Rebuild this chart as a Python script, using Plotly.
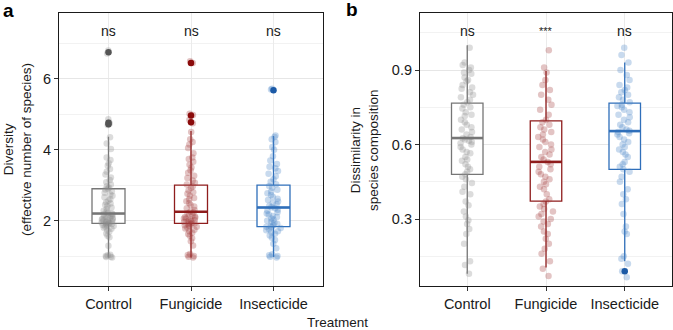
import plotly.graph_objects as go

categories = ["Control", "Fungicide", "Insecticide"]
colors = ["#767676", "#8f1d1d", "#2f6fba"]
point_colors = ["#8a8a8a", "#a33a3a", "#4a86c8"]
dark_colors = ["#555555", "#8b0b0b", "#1c5aa6"]

# ---- panel a: diversity ----
div_q1 = [1.92, 1.92, 1.83]
div_median = [2.2, 2.25, 2.37]
div_q3 = [2.9, 3.0, 3.0]
div_lower = [0.96, 0.96, 0.97]
div_upper = [4.37, 4.53, 4.39]
div_outliers = [[4.72, 4.76, 6.75], [4.78, 4.97, 6.45], [5.68]]

div_control = [0.96, 0.98, 1.0, 1.02, 0.97, 1.04, 1.29, 1.53, 1.57, 1.64, 1.69, 1.73, 1.77, 1.8,
               1.83, 1.85, 1.86, 1.88, 1.9, 1.9, 1.91, 1.93, 1.94, 1.95, 1.95, 1.97, 1.98, 2.0,
               2.01, 2.03, 2.04, 2.05, 2.07, 2.08, 2.1, 2.11, 2.13, 2.15, 2.17, 2.18, 2.2, 2.22,
               2.25, 2.28, 2.33, 2.37, 2.41, 2.45, 2.48, 2.52, 2.57, 2.6, 2.66, 2.7, 2.74, 2.79,
               2.83, 2.88, 2.9, 2.93, 2.97, 3.02, 3.08, 3.15, 3.22, 3.3, 3.38, 3.46, 3.55, 3.62,
               3.71, 3.78, 4.02, 4.18, 4.35, 4.7, 4.74, 4.78, 4.86, 6.72, 6.8]
div_fung = [0.96, 0.98, 1.0, 1.03, 1.06, 1.3, 1.42, 1.5, 1.57, 1.62, 1.66, 1.7, 1.74, 1.78, 1.8,
            1.83, 1.85, 1.87, 1.89, 1.9, 1.92, 1.93, 1.95, 1.96, 1.98, 2.0, 2.01, 2.03, 2.05,
            2.06, 2.08, 2.1, 2.12, 2.14, 2.17, 2.2, 2.23, 2.26, 2.3, 2.35, 2.4, 2.44, 2.5, 2.55,
            2.6, 2.64, 2.7, 2.76, 2.8, 2.86, 2.92, 2.97, 3.02, 3.07, 3.13, 3.2, 3.27, 3.35, 3.42,
            3.5, 3.58, 3.66, 3.74, 3.78, 3.9, 4.05, 4.15, 4.22, 4.3, 4.5, 4.75, 4.85, 4.98, 5.02,
            6.45, 6.5]
div_insect = [0.96, 0.98, 1.0, 1.02, 1.05, 1.22, 1.35, 1.45, 1.52, 1.58, 1.63, 1.67, 1.7, 1.73,
              1.76, 1.79, 1.81, 1.83, 1.85, 1.88, 1.91, 1.94, 1.97, 2.0, 2.03, 2.06, 2.1, 2.13,
              2.17, 2.2, 2.24, 2.28, 2.31, 2.35, 2.38, 2.42, 2.46, 2.5, 2.54, 2.58, 2.62, 2.67,
              2.72, 2.77, 2.82, 2.87, 2.93, 2.98, 3.03, 3.1, 3.17, 3.25, 3.32, 3.4, 3.48, 3.52,
              3.6, 3.7, 3.82, 4.0, 4.08, 4.22, 4.3, 4.36, 4.4, 5.7, 5.72]
div_points = [div_control, div_fung, div_insect]
div_signif = ["ns", "ns", "ns"]

# ---- panel b: dissimilarity ----
dis_q1 = [0.48, 0.372, 0.50]
dis_median = [0.626, 0.53, 0.654]
dis_q3 = [0.767, 0.695, 0.767]
dis_lower = [0.08, 0.105, 0.13]
dis_upper = [1.0, 0.896, 0.93]
dis_outliers = [[], [], [0.09]]

dis_control = [0.08, 0.115, 0.13, 0.2, 0.24, 0.26, 0.28, 0.295, 0.31, 0.33, 0.355, 0.37, 0.4,
               0.41, 0.43, 0.445, 0.46, 0.47, 0.48, 0.49, 0.5, 0.51, 0.52, 0.535, 0.54, 0.55,
               0.565, 0.57, 0.58, 0.59, 0.6, 0.605, 0.61, 0.615, 0.62, 0.625, 0.63, 0.64, 0.65,
               0.66, 0.67, 0.68, 0.69, 0.7, 0.715, 0.72, 0.73, 0.745, 0.75, 0.76, 0.77, 0.78,
               0.79, 0.8, 0.81, 0.825, 0.83, 0.84, 0.855, 0.86, 0.87, 0.885, 0.89, 0.9, 0.91,
               0.92, 0.93, 0.99]
dis_fung = [0.07, 0.1, 0.13, 0.16, 0.18, 0.2, 0.22, 0.24, 0.25, 0.27, 0.28, 0.29, 0.3, 0.31,
            0.32, 0.33, 0.34, 0.35, 0.36, 0.37, 0.38, 0.4, 0.42, 0.43, 0.44, 0.45, 0.46, 0.47,
            0.48, 0.49, 0.5, 0.51, 0.52, 0.53, 0.54, 0.55, 0.56, 0.57, 0.58, 0.59, 0.6, 0.61,
            0.62, 0.63, 0.64, 0.65, 0.66, 0.67, 0.68, 0.69, 0.7, 0.72, 0.74, 0.76, 0.78, 0.8,
            0.82, 0.84, 0.86, 0.89, 0.91, 0.98]
dis_insect = [0.065, 0.09, 0.12, 0.14, 0.15, 0.24, 0.25, 0.27, 0.32, 0.36, 0.38, 0.4, 0.42,
              0.45, 0.47, 0.49, 0.5, 0.51, 0.52, 0.53, 0.55, 0.56, 0.57, 0.58, 0.59, 0.6, 0.61,
              0.62, 0.63, 0.64, 0.645, 0.65, 0.655, 0.66, 0.67, 0.68, 0.69, 0.7, 0.71, 0.72,
              0.73, 0.74, 0.75, 0.755, 0.76, 0.77, 0.78, 0.79, 0.8, 0.81, 0.82, 0.83, 0.84,
              0.86, 0.88, 0.9, 0.93, 0.96, 0.99]
dis_points = [dis_control, dis_fung, dis_insect]
dis_signif = ["ns", "***", "ns"]

BOX_W = 0.4
FONT = "Liberation Sans, Arial, Helvetica, sans-serif"
W, H = 673, 330

fig = go.Figure()


def add_panel(xa, ya, q1, med, q3, lo, up, pts, outl):
    for i in range(3):
        fig.add_trace(go.Box(
            x=[i], q1=[q1[i]], median=[med[i]], q3=[q3[i]],
            lowerfence=[lo[i]], upperfence=[up[i]], width=BOX_W,
            line=dict(color=colors[i], width=1.3), fillcolor="white",
            boxpoints=False, whiskerwidth=0, showlegend=False,
            xaxis=xa, yaxis=ya, hoverinfo="skip"))
        if outl[i]:
            fig.add_trace(go.Scatter(
                x=[i] * len(outl[i]), y=outl[i], mode="markers",
                marker=dict(color=dark_colors[i], size=6.5, line=dict(width=0)),
                showlegend=False, xaxis=xa, yaxis=ya, hoverinfo="skip"))
        fig.add_trace(go.Box(
            x0=i, y=pts[i], boxpoints="all", jitter=0.5, pointpos=0, width=BOX_W,
            line=dict(width=0, color="rgba(0,0,0,0)"), fillcolor="rgba(0,0,0,0)",
            marker=dict(color=point_colors[i], opacity=0.3, size=6.5, line=dict(width=0)),
            showlegend=False, xaxis=xa, yaxis=ya, hoveron="points"))
        fig.add_trace(go.Scatter(
            x=[i - BOX_W / 2, i + BOX_W / 2], y=[med[i], med[i]], mode="lines",
            line=dict(color=colors[i], width=2.6), showlegend=False,
            xaxis=xa, yaxis=ya, hoverinfo="skip"))


add_panel("x", "y", div_q1, div_median, div_q3, div_lower, div_upper, div_points, div_outliers)
add_panel("x2", "y2", dis_q1, dis_median, dis_q3, dis_lower, dis_upper, dis_points, dis_outliers)

ydom = [(H - 286) / H, (H - 13) / H]
common_x = dict(range=[-0.6, 2.6], tickvals=[0, 1, 2], ticktext=categories,
                showgrid=True, gridcolor="#ebebeb", gridwidth=1, zeroline=False,
                showline=True, mirror=True, linecolor="#1a1a1a", linewidth=1.2,
                ticks="outside", ticklen=4, tickcolor="#333333", tickwidth=1,
                tickfont=dict(family=FONT, size=14.5, color="#1a1a1a"))
common_y = dict(showgrid=True, gridcolor="#e6e6e6", gridwidth=1, zeroline=False,
                showline=True, mirror=True, linecolor="#1a1a1a", linewidth=1.2,
                ticks="outside", ticklen=4, tickcolor="#333333", tickwidth=1,
                tickfont=dict(family=FONT, size=14.5, color="#1a1a1a"))

fig.update_layout(
    width=W, height=H, margin=dict(l=0, r=0, t=0, b=0),
    paper_bgcolor="white", plot_bgcolor="white", boxmode="overlay",
    font=dict(family=FONT, color="#1a1a1a"),
    xaxis=dict(domain=[59 / W, 323 / W], anchor="y", **common_x),
    xaxis2=dict(domain=[420 / W, 672 / W], anchor="y2", **common_x),
    yaxis=dict(domain=ydom, anchor="x", range=[0.155, 7.86], tickvals=[2, 4, 6],
               minor=dict(tick0=0, dtick=1, showgrid=True, gridcolor="#f2f2f2", ticks=""),
               **common_y),
    yaxis2=dict(domain=ydom, anchor="x2", range=[0.0302, 1.1296], tickvals=[0.3, 0.6, 0.9],
                ticktext=["0.3", "0.6", "0.9"],
                minor=dict(tick0=0, dtick=0.15, showgrid=True, gridcolor="#f2f2f2", ticks=""),
                **common_y),
)

ann = []
for i in range(3):
    ann.append(dict(x=i, y=7.36, xref="x", yref="y", text=div_signif[i], showarrow=False,
                    font=dict(family=FONT, size=14, color="#1a1a1a")))
    ann.append(dict(x=i, y=1.057, xref="x2", yref="y2", text=dis_signif[i], showarrow=False,
                    font=dict(family=FONT, size=14 if dis_signif[i] == "ns" else 11,
                              color="#1a1a1a")))
ann += [
    dict(x=17 / W, y=1 - 150 / H, xref="paper", yref="paper", textangle=-90,
         xanchor="center", yanchor="middle",
         text="Diversity<br>(effective number of species)", showarrow=False,
         font=dict(family=FONT, size=13.5, color="#1a1a1a")),
    dict(x=364 / W, y=1 - 150 / H, xref="paper", yref="paper", textangle=-90,
         xanchor="center", yanchor="middle",
         text="Dissimilarity in<br>species composition", showarrow=False,
         font=dict(family=FONT, size=13.5, color="#1a1a1a")),
    dict(x=337 / W, y=1 - 322 / H, xref="paper", yref="paper", text="Treatment",
         xanchor="center", yanchor="middle",
         showarrow=False, font=dict(family=FONT, size=13.5, color="#1a1a1a")),
    dict(x=8 / W, y=1 - 11 / H, xref="paper", yref="paper", text="<b>a</b>",
         xanchor="center", yanchor="middle",
         showarrow=False, font=dict(family=FONT, size=19, color="#000000")),
    dict(x=352 / W, y=1 - 10 / H, xref="paper", yref="paper", text="<b>b</b>",
         xanchor="center", yanchor="middle",
         showarrow=False, font=dict(family=FONT, size=19, color="#000000")),
]
fig.update_layout(annotations=ann)

fig.write_html("out.html", config={"displayModeBar": False},
               post_script="document.body.style.margin='0';document.body.style.overflow='hidden';")
